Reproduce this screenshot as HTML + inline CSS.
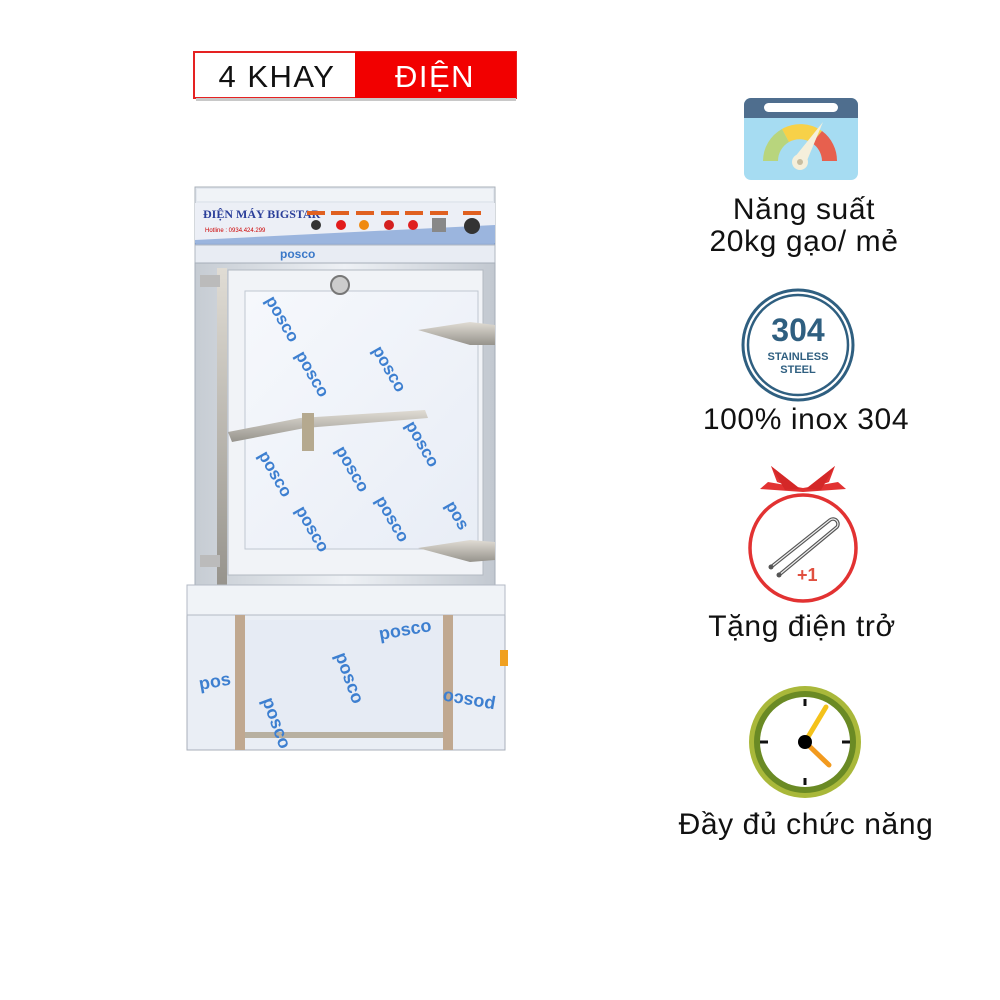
<!DOCTYPE html>
<html><head><meta charset="utf-8"><style>
html,body{margin:0;padding:0;background:#fff;}
body{width:1000px;height:1000px;position:relative;overflow:hidden;font-family:"Liberation Sans","DejaVu Sans",sans-serif;}
.t{position:absolute;font-size:30px;letter-spacing:0.6px;color:#111;text-align:center;width:340px;line-height:32px;}
</style></head><body>
<svg width="1000" height="1000" style="position:absolute;left:0;top:0">
<defs>
<linearGradient id="steel" x1="0" x2="1" y1="0" y2="0">
<stop offset="0" stop-color="#c6ccd3"/><stop offset="0.5" stop-color="#eef1f5"/><stop offset="1" stop-color="#c2c8d0"/></linearGradient>
<linearGradient id="film" x1="0" x2="1" y1="0" y2="1">
<stop offset="0" stop-color="#f6f8fc"/><stop offset="1" stop-color="#e8edf6"/></linearGradient>
<linearGradient id="hdl" x1="0" x2="0" y1="0" y2="1">
<stop offset="0" stop-color="#e0dcd4"/><stop offset="1" stop-color="#96938c"/></linearGradient>
</defs>
<!-- label -->
<rect x="194" y="52" width="322" height="46" fill="#fff" stroke="#e52222" stroke-width="2"/>
<rect x="355" y="52" width="161" height="46" fill="#f20000"/>
<rect x="196" y="98" width="320" height="3" fill="#c8c8c8"/>
<text x="277" y="87" font-size="31" letter-spacing="1.5" text-anchor="middle" fill="#111" font-family="Liberation Sans">4 KHAY</text>
<text x="435" y="87" font-size="31" letter-spacing="1.5" text-anchor="middle" fill="#fff" font-family="Liberation Sans">ĐIỆN</text>

<!-- cabinet -->
<rect x="195" y="187" width="300" height="75" fill="#e3e8ef" stroke="#a9b0ba"/>
<rect x="197" y="189" width="296" height="12" fill="#f0f3f7"/>
<rect x="195" y="203" width="300" height="40" fill="#eceff6"/>
<path d="M195 240 L495 225 L495 245 L195 250 Z" fill="#3a6fc0" opacity="0.45"/>
<text x="203" y="218" font-size="12" fill="#2b3f9a" font-family="Liberation Serif" font-weight="bold">ĐIỆN MÁY BIGSTAR</text>
<text x="205" y="232" font-size="6" fill="#c00">Hotline : 0934.424.299</text>
<g>
<rect x="307" y="211" width="18" height="4" fill="#e06020"/><circle cx="316" cy="225" r="5" fill="#333"/>
<rect x="331" y="211" width="18" height="4" fill="#e06020"/><circle cx="341" cy="225" r="5" fill="#e21b1b"/>
<rect x="356" y="211" width="18" height="4" fill="#e06020"/><circle cx="364" cy="225" r="5" fill="#f08a10"/>
<rect x="381" y="211" width="18" height="4" fill="#e06020"/><circle cx="389" cy="225" r="5" fill="#d42020"/>
<rect x="405" y="211" width="18" height="4" fill="#e06020"/><circle cx="413" cy="225" r="5" fill="#e02020"/>
<rect x="430" y="211" width="18" height="4" fill="#e06020"/><rect x="432" y="218" width="14" height="14" fill="#888"/>
<rect x="463" y="211" width="18" height="4" fill="#e06020"/><circle cx="472" cy="226" r="8" fill="#333"/>
</g>
<rect x="195" y="245" width="300" height="18" fill="#e8ecf3" stroke="#b0b7c1"/>
<text x="280" y="258" font-size="12" fill="#3a78c8" font-weight="bold">posco</text>
<!-- door frame -->
<rect x="195" y="263" width="300" height="322" fill="url(#steel)" stroke="#a6aeb8"/>
<rect x="228" y="270" width="255" height="305" fill="#f1f3f7" stroke="#b2b9c2"/>
<rect x="245" y="291" width="233" height="258" fill="url(#film)" stroke="#c0c7d1"/>
<circle cx="340" cy="285" r="9" fill="#ccc" stroke="#777" stroke-width="2"/>
<g fill="#3d7fd0" font-size="17" font-weight="bold" font-family="Liberation Sans">
<text transform="translate(265,300) rotate(60)">posco</text>
<text transform="translate(372,350) rotate(60)">posco</text>
<text transform="translate(295,355) rotate(60)">posco</text>
<text transform="translate(405,425) rotate(60)">posco</text>
<text transform="translate(258,455) rotate(60)">posco</text>
<text transform="translate(335,450) rotate(60)">posco</text>
<text transform="translate(295,510) rotate(60)">posco</text>
<text transform="translate(375,500) rotate(60)">posco</text>
<text transform="translate(445,505) rotate(60)">pos</text>
</g>
<rect x="217" y="268" width="10" height="320" fill="url(#hdl)"/>
<rect x="200" y="275" width="20" height="12" fill="#bbb"/>
<rect x="200" y="555" width="20" height="12" fill="#bbb"/>
<path d="M228 432 L300 418 L425 410 L428 418 L305 428 L232 442 Z" fill="url(#hdl)"/>
<rect x="302" y="413" width="12" height="38" fill="#b5a98f"/>
<path d="M418 330 L470 322 L495 325 L495 345 L470 345 Z" fill="url(#hdl)"/>
<path d="M418 548 L470 540 L495 542 L495 560 L470 562 Z" fill="url(#hdl)"/>
<!-- base -->
<rect x="187" y="585" width="318" height="165" fill="#eaeef5" stroke="#a8afba"/>
<rect x="187" y="585" width="318" height="30" fill="#f0f3f7" stroke="#b3bac4"/>
<rect x="235" y="615" width="10" height="135" fill="#c0a890"/>
<rect x="443" y="615" width="10" height="135" fill="#c0a890"/>
<rect x="245" y="620" width="198" height="115" fill="#e6ebf4"/>
<rect x="245" y="732" width="198" height="6" fill="#b8b0a0"/>
<rect x="500" y="650" width="8" height="16" fill="#f0a020"/>
<g fill="#3d7fd0" font-size="18" font-weight="bold" font-family="Liberation Sans">
<text transform="translate(200,690) rotate(-10)">pos</text>
<text transform="translate(380,640) rotate(-10)">posco</text>
<text transform="translate(262,700) rotate(70)">posco</text>
<text transform="translate(335,655) rotate(70)">posco</text>
<text transform="translate(496,700) rotate(190)">posco</text>
</g>

<!-- gauge icon -->
<rect x="744" y="98" width="114" height="82" rx="7" fill="#a6dcf2"/>
<path d="M744 118 v-13 a7 7 0 0 1 7 -7 h100 a7 7 0 0 1 7 7 v13 z" fill="#4f6e8e"/>
<rect x="764" y="103" width="74" height="9" rx="4.5" fill="#fff"/>
<path d="M763 161 A37 37 0 0 1 782 129 L789 142 A22 22 0 0 0 778 161 Z" fill="#b8d57d"/>
<path d="M782 129 A37 37 0 0 1 822 131 L812 143 A22 22 0 0 0 789 142 Z" fill="#f7d148"/>
<path d="M822 131 A37 37 0 0 1 837 161 L822 161 A22 22 0 0 0 812 143 Z" fill="#e7604e"/>
<path d="M794 158 L823 122 L806 163 Z" fill="#f5efdb"/>
<circle cx="800" cy="162" r="8" fill="#f5efdb"/><circle cx="800" cy="162" r="3" fill="#c8bda0"/>

<!-- 304 -->
<circle cx="798" cy="345" r="55" fill="none" stroke="#2f5f80" stroke-width="3"/>
<circle cx="798" cy="345" r="50" fill="none" stroke="#2f5f80" stroke-width="2.5"/>
<text x="798" y="341" font-size="32" font-weight="bold" fill="#2f5f80" text-anchor="middle">304</text>
<text x="798" y="360" font-size="11" font-weight="bold" fill="#2f5f80" text-anchor="middle">STAINLESS</text>
<text x="798" y="373" font-size="11" font-weight="bold" fill="#2f5f80" text-anchor="middle">STEEL</text>

<!-- gift -->
<circle cx="803" cy="548" r="53" fill="#fff" stroke="#e23232" stroke-width="3.5"/>
<path d="M760 489 L803 492 L846 489 L838 482 L803 488 L768 482 Z" fill="#e23232"/>
<path d="M803 491 L771 466 L777 482 Z M803 491 L835 466 L829 482 Z" fill="#e23232"/>
<path d="M771 466 L800 489 L785 490 Z M835 466 L806 489 L821 490 Z" fill="#d42828"/>
<path d="M771 567 L830 520 a5 5 0 0 1 7 7 L779 575" fill="none" stroke="#555" stroke-width="3.5"/>
<path d="M771 567 L830 520 a5 5 0 0 1 7 7 L779 575" fill="none" stroke="#eee" stroke-width="1.2"/>
<circle cx="771" cy="567" r="2.5" fill="#555"/><circle cx="779" cy="575" r="2.5" fill="#555"/>
<text x="797" y="581" font-size="18" font-weight="bold" fill="#e05040">+1</text>

<!-- clock -->
<circle cx="805" cy="742" r="56" fill="#a9b83a"/>
<circle cx="805" cy="742" r="51" fill="#6a8a24"/>
<circle cx="805" cy="742" r="45" fill="#fff"/>
<g stroke="#111" stroke-width="3">
<line x1="805" y1="699" x2="805" y2="706"/><line x1="805" y1="778" x2="805" y2="785"/>
<line x1="760" y1="742" x2="768" y2="742"/><line x1="842" y1="742" x2="850" y2="742"/></g>
<line x1="805" y1="742" x2="826" y2="707" stroke="#f4c21a" stroke-width="5" stroke-linecap="round"/>
<line x1="805" y1="742" x2="829" y2="765" stroke="#f29a1e" stroke-width="5" stroke-linecap="round"/>
<circle cx="805" cy="742" r="7" fill="#000"/>
</svg>
<div class="t" style="left:634px;top:194px">Năng suất<br>20kg gạo/ mẻ</div>
<div class="t" style="left:636px;top:404px">100% inox 304</div>
<div class="t" style="left:632px;top:611px">Tặng điện trở</div>
<div class="t" style="left:636px;top:809px">Đầy đủ chức năng</div>
</body></html>
